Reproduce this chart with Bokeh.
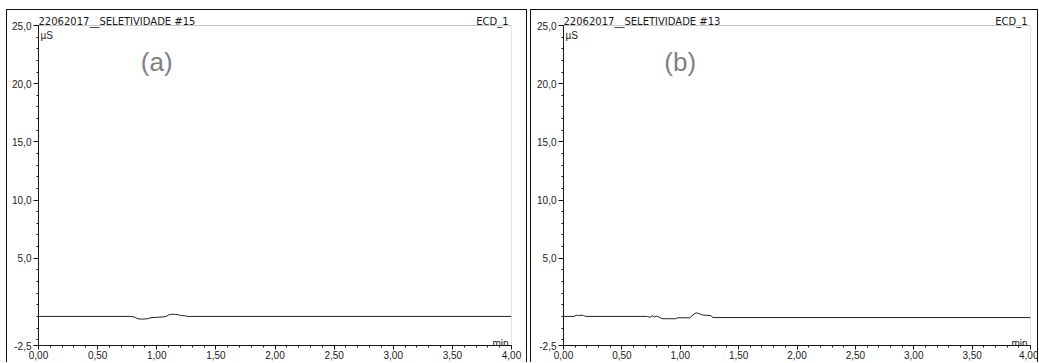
from bokeh.plotting import figure
from bokeh.layouts import row
from bokeh.models import Range1d, FixedTicker, Label, BoxAnnotation
from bokeh.embed import file_html
from bokeh.resources import INLINE

# ---- data ----
titles = ["22062017__SELETIVIDADE #15", "22062017__SELETIVIDADE #13"]
tags = ["(a)", "(b)"]
channel = "ECD_1"
y_unit = "µS"
x_unit = "min"

x_lo, x_hi = 0.0, 4.0
y_lo, y_hi = -2.5, 25.0
x_ticks = [0.0, 0.5, 1.0, 1.5, 2.0, 2.5, 3.0, 3.5, 4.0]
x_tick_labels = ["0,00", "0,50", "1,00", "1,50", "2,00", "2,50", "3,00", "3,50", "4,00"]
y_ticks = [-2.5, 5.0, 10.0, 15.0, 20.0, 25.0]
y_tick_labels = ["-2,5", "5,0", "10,0", "15,0", "20,0", "25,0"]
x_minor = [round(0.1 * i, 2) for i in range(0, 41)]
y_minor = list(range(-2, 26))

t_a = [0.0, 0.78, 0.81, 0.84, 0.88, 0.92, 0.96, 1.00, 1.05, 1.08, 1.10, 1.12, 1.15, 1.18, 1.20, 1.24, 1.26, 4.0]
s_a = [0.0, 0.0, -0.05, -0.2, -0.24, -0.2, -0.1, -0.08, -0.05, 0.0, 0.12, 0.18, 0.18, 0.15, 0.08, 0.05, 0.0, 0.0]

t_b = [0.0, 0.09, 0.11, 0.13, 0.15, 0.17, 0.19, 0.72, 0.74, 0.76, 0.78, 0.80, 0.83, 0.85, 0.96, 0.98,
       1.08, 1.10, 1.12, 1.14, 1.16, 1.19, 1.22, 1.26, 1.28, 4.0]
s_b = [0.0, 0.0, 0.1, 0.08, 0.1, 0.08, 0.0, 0.0, -0.08, 0.05, -0.05, 0.03, -0.12, -0.2, -0.2, -0.12,
       -0.12, 0.05, 0.22, 0.3, 0.25, 0.12, 0.1, 0.08, -0.1, -0.1]

FONT = "Liberation Sans"
HEAD_FONT = "DejaVu Sans"

# layout (pixels)
H = 353          # figure height
MB_TOP = 3       # canvas top -> frame top (title band lives inside frame)
MB_BOTTOM = 17   # x axis panel
BAND = 13        # pixels of frame above y=25 used for the title line


def make_panel(title, tag, xs, ys, width, mb_left, mb_right, margin):
    data_px = H - MB_TOP - MB_BOTTOM - BAND
    y_top = y_hi + BAND * (y_hi - y_lo) / data_px
    p = figure(width=width, height=H,
               x_range=Range1d(x_lo, x_hi), y_range=Range1d(y_lo, y_top),
               output_backend="svg", toolbar_location=None,
               min_border_left=mb_left, min_border_right=mb_right,
               min_border_top=MB_TOP, min_border_bottom=MB_BOTTOM)
    p.margin = margin
    # outer panel frame (left, top, right) drawn without changing the layout size
    p.styles = {"box-shadow": "inset 1px 1px 0 0 #111111, inset -1px 0 0 0 #111111",
                "background-color": "white"}
    p.xgrid.visible = False
    p.ygrid.visible = False
    p.outline_line_color = None
    p.background_fill_color = "white"
    p.border_fill_alpha = 0

    p.xaxis.ticker = FixedTicker(ticks=x_ticks, minor_ticks=x_minor)
    p.yaxis.ticker = FixedTicker(ticks=y_ticks, minor_ticks=y_minor)
    p.xaxis.major_label_overrides = {k: v for k, v in zip(x_ticks, x_tick_labels)}
    p.yaxis.major_label_overrides = {k: v for k, v in zip(y_ticks, y_tick_labels)}
    p.yaxis.bounds = (y_lo, y_hi)

    for ax in (p.xaxis[0], p.yaxis[0]):
        ax.axis_line_color = "#111111"
        ax.major_tick_line_color = "#111111"
        ax.minor_tick_line_color = "#111111"
        ax.major_tick_in = 0
        ax.minor_tick_in = 0
        ax.minor_tick_out = 2
        ax.major_label_text_font = FONT
        ax.major_label_text_font_size = "10px"
        ax.major_label_text_color = "#1a1a1a"
    p.xaxis.major_tick_out = 4
    p.xaxis.major_label_standoff = 1
    p.yaxis.major_tick_out = 5
    p.yaxis.major_label_standoff = 2

    # plot box (top and right edges)
    p.add_layout(BoxAnnotation(left=x_lo, right=x_hi, bottom=y_lo, top=y_hi,
                               fill_alpha=0, line_color="#444444", line_width=1))

    p.line(xs, ys, line_color="#222222", line_width=1)

    p.add_layout(Label(x=x_lo, y=y_hi, y_offset=4, text=title, text_font=HEAD_FONT,
                       text_font_size="10px", text_color="#1a1a1a",
                       text_baseline="alphabetic", text_align="left"))
    p.add_layout(Label(x=x_hi, y=y_hi, x_offset=-3, y_offset=4, text=channel, text_font=HEAD_FONT,
                       text_font_size="10px", text_color="#1a1a1a",
                       text_baseline="alphabetic", text_align="right"))
    p.add_layout(Label(x=x_lo, y=y_hi, x_offset=2, y_offset=-10, text=y_unit, text_font=FONT,
                       text_font_size="10px", text_color="#1a1a1a",
                       text_baseline="alphabetic", text_align="left"))
    p.add_layout(Label(x=x_hi, y=y_lo, x_offset=-3, y_offset=2, text=x_unit, text_font=FONT,
                       text_font_size="10px", text_color="#1a1a1a",
                       text_baseline="alphabetic", text_align="right"))
    p.add_layout(Label(x=1.0, y=21.9, text=tag, text_font=FONT,
                       text_font_size="26px", text_color="#808080",
                       text_baseline="middle", text_align="center"))
    return p


pa = make_panel(titles[0], tags[0], t_a, s_a, 521, 32, 16, (9, 0, 0, 6))
pb = make_panel(titles[1], tags[1], t_b, s_b, 508, 33, 8, (9, 0, 0, 0))

layout = row(pa, pb, spacing=3)
open("out.html", "w").write(file_html(layout, INLINE))
